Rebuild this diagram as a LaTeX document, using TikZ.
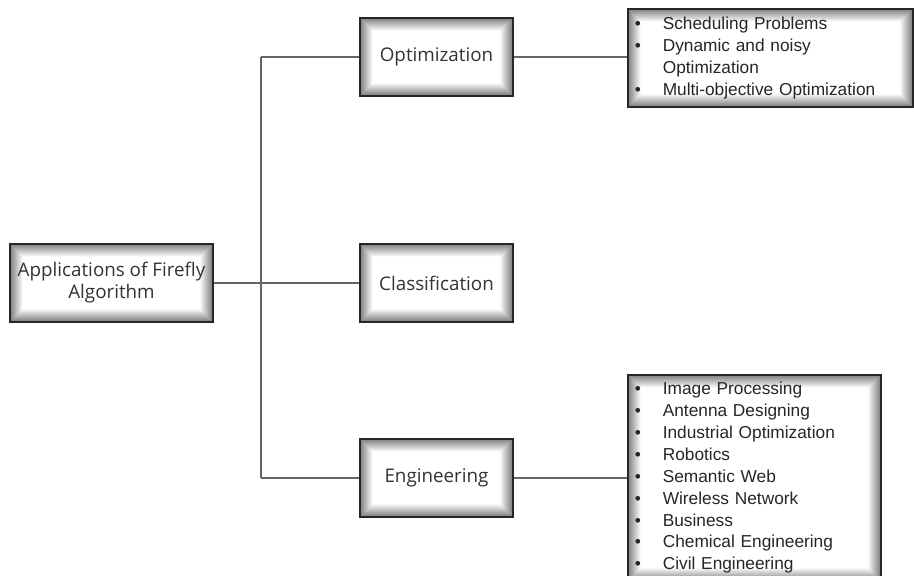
\documentclass[tikz,border=0pt]{standalone}
\usepackage{fontspec}
\setmainfont{Liberation Sans}
\newfontfamily\labelfont{Open Sans}
\begin{document}
\begin{tikzpicture}[x=1pt,y=-1pt,
  shadowbox/.style={draw=black!85, line width=1.6pt, fill=white, inner sep=0pt,
    path picture={
      \foreach \i [evaluate=\i as \c using int(50-4*\i)] in {0,...,12}{
        \draw[line width=1.1pt, black!\c]
          ([shift={(\i pt+0.6pt,\i pt+0.6pt)}]path picture bounding box.south west)
          rectangle
          ([shift={(-\i pt-0.6pt,-\i pt-0.6pt)}]path picture bounding box.north east);
      }}},
  labelbox/.style={shadowbox, minimum width=153pt, minimum height=78pt,
    font=\labelfont\fontsize{18.8}{22}\selectfont, text=black!80, align=center},
  listbox/.style={shadowbox, font=\fontsize{17.3}{21.9}\selectfont, text=black!85,
    align=left, anchor=north west, inner xsep=5pt},
  link/.style={draw=black!60, line width=1.6pt}
]
\useasboundingbox (0,0) rectangle (914,576);

% root and category boxes
\node[labelbox, minimum width=203pt] (root) at (111.5,283) {Applications of Firefly\\Algorithm};
\node[labelbox] (opt) at (436.5,57) {Optimization};
\node[labelbox] (cls) at (436.5,283) {Classification};
\node[labelbox] (eng) at (436.5,478) {Engineering};

% bullet lists
\newcommand{\itm}{\makebox[30pt][l]{\hspace*{2pt}\textbullet}}
\node[listbox, minimum width=285pt, minimum height=98pt, text width=275pt]
  (optlist) at (627,8)
  {\itm Scheduling Problems\\
   \itm Dynamic and noisy\\
   \hspace*{30pt}Optimization\\
   \itm Multi-objective Optimization};
\node[listbox, minimum width=253pt, minimum height=206pt, text width=243pt]
  (englist) at (627,374)
  {\itm Image Processing\\
   \itm Antenna Designing\\
   \itm Industrial Optimization\\
   \itm Robotics\\
   \itm Semantic Web\\
   \itm Wireless Network\\
   \itm Business\\
   \itm Chemical Engineering\\
   \itm Civil Engineering};

% tree connectors
\coordinate (jt) at (261,57);
\coordinate (jm) at (261,283);
\coordinate (jb) at (261,478);
\draw[link] (root.east) -- (jm);
\draw[link] (jt) -- (jb);
\draw[link] (jt) -- (opt.west);
\draw[link] (jm) -- (cls.west);
\draw[link] (jb) -- (eng.west);
\draw[link] (opt.east) -- (opt.east -| optlist.west);
\draw[link] (eng.east) -- (eng.east -| englist.west);
\end{tikzpicture}
\end{document}
